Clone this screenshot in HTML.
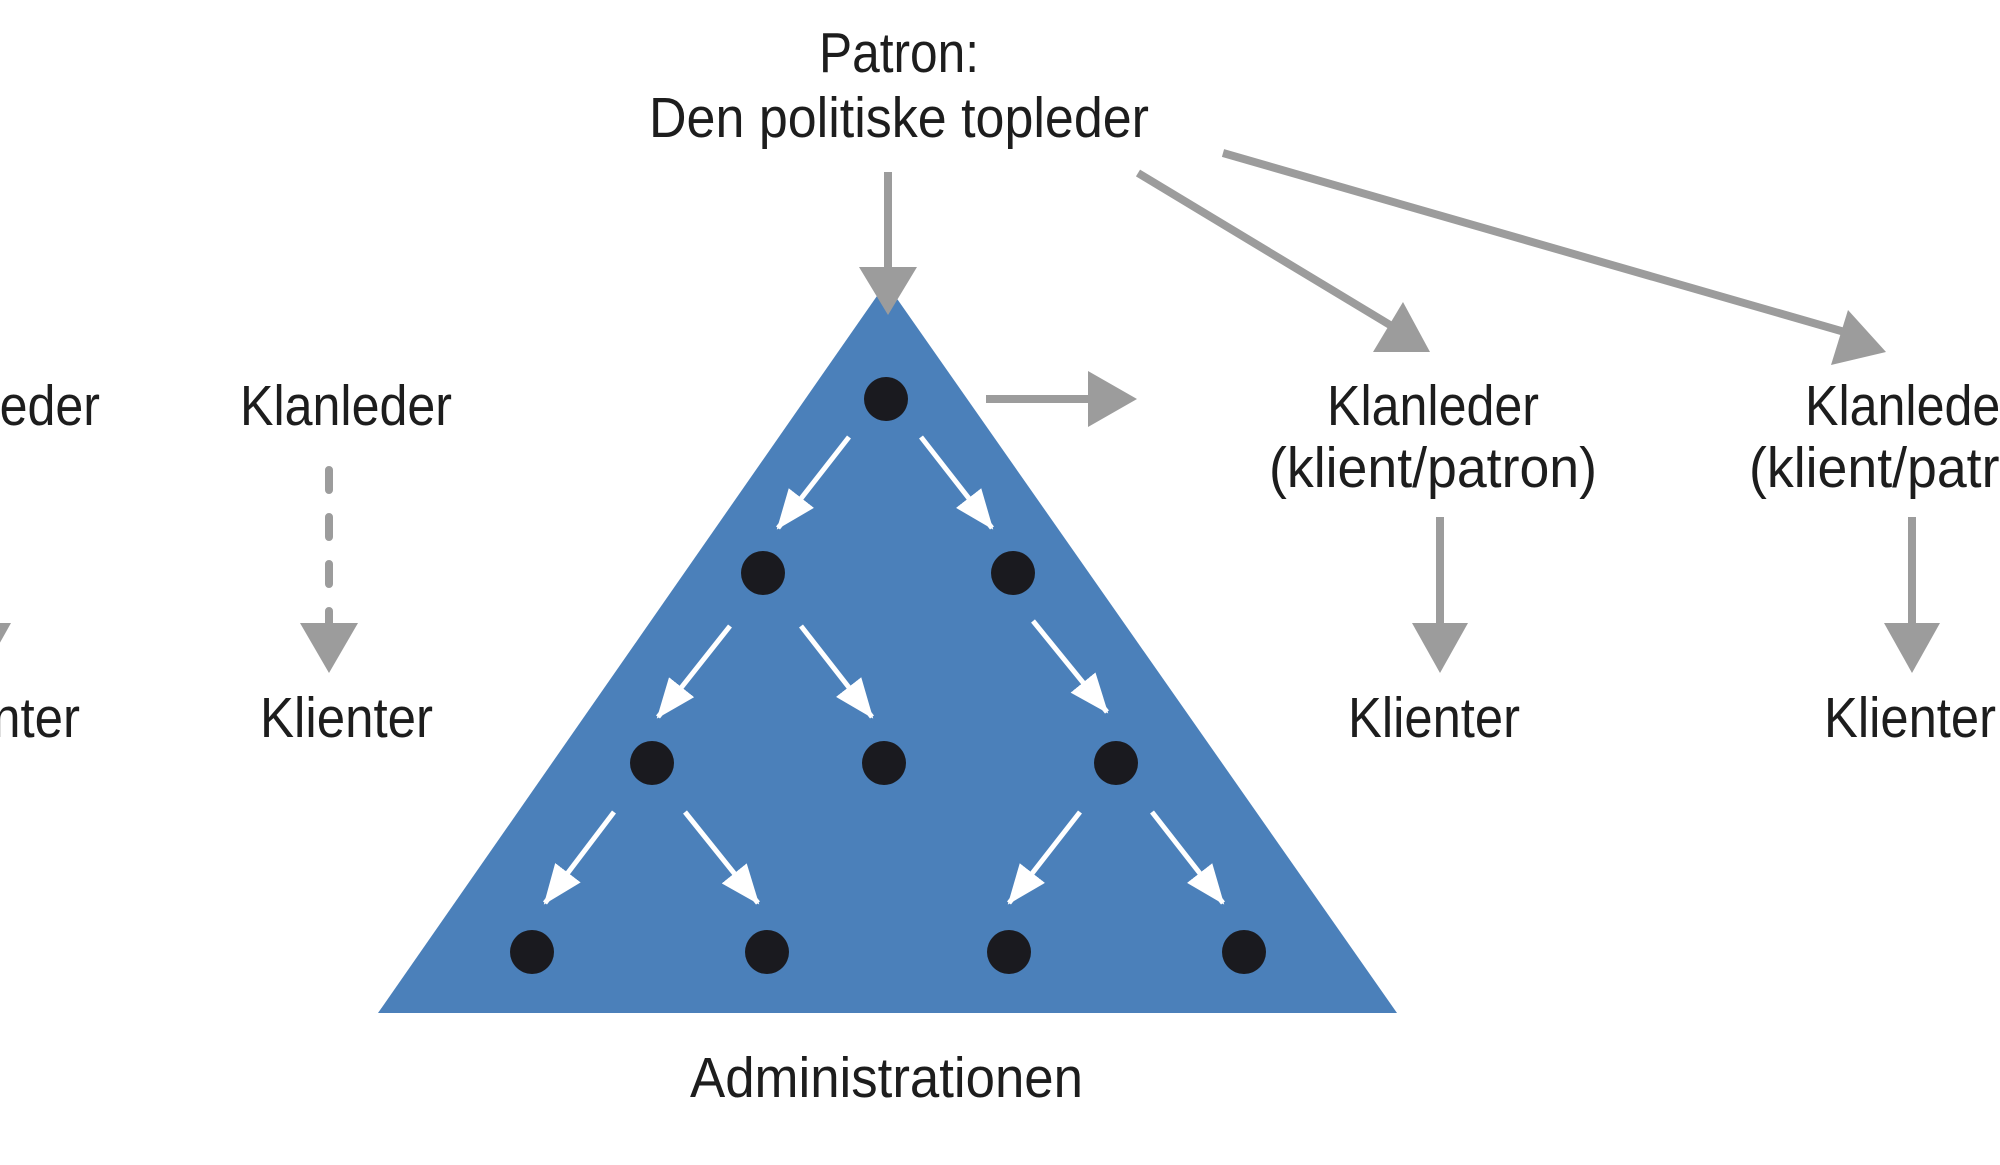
<!DOCTYPE html>
<html><head><meta charset="utf-8"><style>
html,body{margin:0;padding:0;background:#fff;width:2000px;height:1165px;overflow:hidden}
svg{display:block}
text{font-family:"Liberation Sans",sans-serif;font-size:57px;fill:#1d1d1d}
</style></head><body>
<svg width="2000" height="1165" viewBox="0 0 2000 1165" xmlns="http://www.w3.org/2000/svg">
<defs>
<marker id="wa" markerUnits="userSpaceOnUse" markerWidth="42" markerHeight="34" refX="38" refY="16" orient="auto">
<path d="M0,0 L40,16 L0,32 Z" fill="#fff"/>
</marker>
</defs>
<polygon points="886,283 378,1013 1397,1013" fill="#4b80ba"/>
<g fill="#1a1a1f">
<circle cx="886" cy="399" r="22"/><circle cx="763" cy="573" r="22"/><circle cx="1013" cy="573" r="22"/>
<circle cx="652" cy="763" r="22"/><circle cx="884" cy="763" r="22"/><circle cx="1116" cy="763" r="22"/>
<circle cx="532" cy="952" r="22"/><circle cx="767" cy="952" r="22"/><circle cx="1009" cy="952" r="22"/><circle cx="1244" cy="952" r="22"/>
</g>
<g stroke="#fff" stroke-width="5" marker-end="url(#wa)">
<line x1="849" y1="437" x2="778" y2="528"/>
<line x1="921" y1="437" x2="992" y2="528"/>
<line x1="730" y1="626" x2="658" y2="717"/>
<line x1="801" y1="626" x2="872" y2="717"/>
<line x1="1033" y1="621" x2="1107" y2="712"/>
<line x1="614" y1="812" x2="545" y2="903"/>
<line x1="685" y1="812" x2="758" y2="903"/>
<line x1="1080" y1="812" x2="1009" y2="903"/>
<line x1="1152" y1="812" x2="1223" y2="903"/>
</g>
<g stroke="#9c9c9c" stroke-width="8" fill="none">
<line x1="888" y1="172" x2="888" y2="275"/>
<line x1="986" y1="399" x2="1095" y2="399"/>
<line x1="1138" y1="173" x2="1395" y2="328"/>
<line x1="1223" y1="153" x2="1855" y2="335"/>
<line x1="1440" y1="517" x2="1440" y2="627"/>
<line x1="1912" y1="517" x2="1912" y2="627"/>
<line x1="329" y1="470" x2="329" y2="627" stroke-dasharray="20 27" stroke-linecap="round"/>
</g>
<g fill="#9c9c9c">
<polygon points="859,267 917,267 888,315"/>
<polygon points="1088,371 1088,427 1137,399"/>
<polygon points="1403,302 1373,352 1430,352"/>
<polygon points="1848,310 1831,365 1886,352"/>
<polygon points="1412,623 1468,623 1440,673"/>
<polygon points="1884,623 1940,623 1912,673"/>
<polygon points="300,623 358,623 329,673"/>
<polygon points="-45,623 11,623 -17,673"/>
</g>
<text x="819" y="72" textLength="160" lengthAdjust="spacingAndGlyphs">Patron:</text>
<text x="649" y="137" textLength="500" lengthAdjust="spacingAndGlyphs">Den politiske topleder</text>
<text x="-112" y="425" textLength="212" lengthAdjust="spacingAndGlyphs">Klanleder</text>
<text x="-93" y="737" textLength="173" lengthAdjust="spacingAndGlyphs">Klienter</text>
<text x="240" y="425" textLength="212" lengthAdjust="spacingAndGlyphs">Klanleder</text>
<text x="260" y="737" textLength="173" lengthAdjust="spacingAndGlyphs">Klienter</text>
<text x="1327" y="425" textLength="212" lengthAdjust="spacingAndGlyphs">Klanleder</text>
<text x="1269" y="487" textLength="328" lengthAdjust="spacingAndGlyphs">(klient/patron)</text>
<text x="1348" y="737" textLength="172" lengthAdjust="spacingAndGlyphs">Klienter</text>
<text x="1805" y="425" textLength="212" lengthAdjust="spacingAndGlyphs">Klanleder</text>
<text x="1749" y="487" textLength="328" lengthAdjust="spacingAndGlyphs">(klient/patron)</text>
<text x="1824" y="737" textLength="172" lengthAdjust="spacingAndGlyphs">Klienter</text>
<text x="690" y="1097" textLength="393" lengthAdjust="spacingAndGlyphs">Administrationen</text>
</svg>
</body></html>
